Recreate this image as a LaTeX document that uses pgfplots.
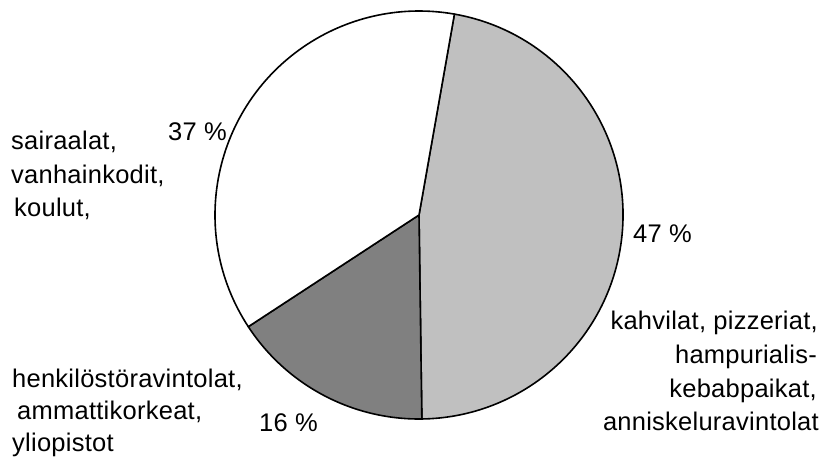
\documentclass[border=0pt]{standalone}
\usepackage{pgfplots}
\usepackage{pgfplotstable}
\pgfplotsset{compat=1.18}
\usepackage{fontspec}
\setmainfont{Liberation Sans}[LetterSpace=1]

\definecolor{slicea}{HTML}{C0C0C0}
\definecolor{sliceb}{HTML}{808080}
\definecolor{slicec}{HTML}{FFFFFF}

% osuudet (%), myötäpäivään alkaen harmaasta sektorista
\pgfplotstableread{
share color
47 slicea
16 sliceb
37 slicec
}\piedata

\tikzset{
lbl/.style={font=\fontsize{25.5}{33}\selectfont,inner sep=0pt,anchor=base west},
lblr/.style={lbl,anchor=base east}
}

\begin{document}
\begin{tikzpicture}
\pgfmathsetmacro{\startang}{80.0}
\pgfplotstablegetelem{0}{share}\of\piedata \let\sa\pgfplotsretval
\pgfplotstablegetelem{1}{share}\of\piedata \let\sb\pgfplotsretval
\pgfplotstablegetelem{2}{share}\of\piedata \let\sc\pgfplotsretval
\pgfmathsetmacro{\angb}{\startang-3.6*\sa}
\pgfmathsetmacro{\angc}{\angb-3.6*\sb}
\pgfmathsetmacro{\angd}{\angc-3.6*\sc}
\def\rad{204pt}
\begin{axis}[
	x=1pt,y=1pt,
	xmin=0,xmax=821,ymin=0,ymax=458,
	y dir=reverse,
	hide axis,clip=false]
\coordinate (c) at (axis cs:419,215);
\filldraw[fill=slicea,line width=1.6pt,line join=round] (c) -- ++(\startang:\rad) arc[start angle=\startang,end angle=\angb,radius=\rad] -- cycle;
\filldraw[fill=sliceb,line width=1.6pt,line join=round] (c) -- ++(\angb:\rad) arc[start angle=\angb,end angle=\angc,radius=\rad] -- cycle;
\filldraw[fill=slicec,line width=1.6pt,line join=round] (c) -- ++(\angc:\rad) arc[start angle=\angc,end angle=\angd,radius=\rad] -- cycle;
% prosentit
\node[lbl] at (axis cs:168,140) {37 \%};
\node[lbl] at (axis cs:633,242) {47 \%};
\node[lbl] at (axis cs:259,431) {16 \%};
% selitteet
\node[lbl] at (axis cs:11,149) {sairaalat,};
\node[lbl] at (axis cs:11,183) {vanhainkodit,};
\node[lbl] at (axis cs:14,216) {koulut,};
\node[lblr] at (axis cs:818,329) {kahvilat, pizzeriat,};
\node[lblr] at (axis cs:817,363) {hampurialis-};
\node[lblr] at (axis cs:817,397) {kebabpaikat,};
\node[lblr] at (axis cs:819,430) {anniskeluravintolat};
\node[lbl] at (axis cs:12,387) {henkilöstöravintolat,};
\node[lbl] at (axis cs:17,419) {ammattikorkeat,};
\node[lbl] at (axis cs:12,451) {yliopistot};
\end{axis}
\pgfresetboundingbox
\path (0,0) rectangle (821pt,458pt);
\end{tikzpicture}
\end{document}
